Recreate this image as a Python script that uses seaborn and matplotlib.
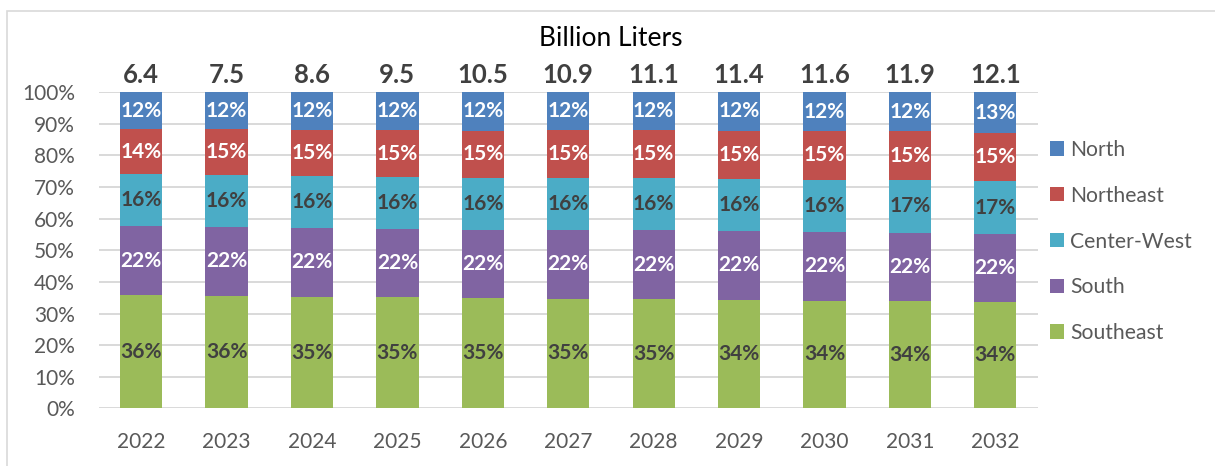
import numpy as np
import pandas as pd
import matplotlib
matplotlib.use("Agg")
import matplotlib.pyplot as plt
from matplotlib.patches import Rectangle
import seaborn as sns

years = [str(y) for y in range(2022, 2033)]
totals = [6.4, 7.5, 8.6, 9.5, 10.5, 10.9, 11.1, 11.4, 11.6, 11.9, 12.1]

# shares in percent
southeast = [35.8, 35.6, 35.3, 35.1, 34.8, 34.7, 34.6, 34.3, 34.1, 33.9, 33.6]
south = [21.9, 21.8, 21.8, 21.6, 21.6, 21.7, 21.8, 21.8, 21.8, 21.7, 21.6]
center_west = [16.3, 16.3, 16.3, 16.4, 16.4, 16.4, 16.4, 16.4, 16.4, 16.6, 16.6]
northeast = [14.4, 14.6, 14.8, 15.0, 15.1, 15.4, 15.3, 15.4, 15.4, 15.4, 15.4]
north = [11.6, 11.7, 11.8, 11.9, 12.1, 11.8, 11.9, 12.1, 12.3, 12.4, 12.8]

regions = ["Southeast", "South", "Center-West", "Northeast", "North"]
colors = ["#9BBB59", "#8064A2", "#4BACC6", "#C0504D", "#4F81BD"]
text_colors = ["#404040", "white", "#404040", "white", "white"]

sns.set_theme(style="white")
plt.rcParams['font.family'] = ['Lato', 'DejaVu Sans']

shares = pd.DataFrame({
    "Southeast": southeast,
    "South": south,
    "Center-West": center_west,
    "Northeast": northeast,
    "North": north,
}, index=years) / 100.0
cum = shares.cumsum(axis=1)

fig = plt.figure(figsize=(12.15, 4.66), dpi=100)
ax = fig.add_axes([98.5 / 1215, 57.7 / 466, 939.5 / 1215, 316 / 466])

# stacked bars: draw cumulative layers from the top down
for region, color in zip(regions[::-1], colors[::-1]):
    sns.barplot(x=years, y=cum[region].values, color=color, saturation=1,
                width=0.495, errorbar=None, linewidth=0, label=region, ax=ax)

# segment labels
for region, tcol in zip(regions, text_colors):
    mids = cum[region].values - shares[region].values / 2
    for i, (m, v) in enumerate(zip(mids, shares[region].values)):
        ax.text(i, m, f"{v * 100:.0f}%", ha='center', va='center',
                fontsize=15, fontweight='bold', color=tcol)

# totals above the bars
for i, t in enumerate(totals):
    ax.annotate(f"{t}", xy=(i, 1.0), xytext=(0, 12.5), textcoords='offset points',
                ha='center', va='center', fontsize=18.5, fontweight='bold',
                color='#404040', annotation_clip=False)

ax.set_xlim(-0.5, 10.5)
ax.set_ylim(0, 1.0)
ax.set_yticks(np.arange(0, 1.01, 0.1))
ax.set_yticklabels([f"{int(round(v * 100))}%" for v in np.arange(0, 1.01, 0.1)])
ax.grid(axis='y', color='#D9D9D9', linewidth=1.4)
ax.set_axisbelow(True)
for s in ax.spines.values():
    s.set_visible(False)
ax.tick_params(axis='both', length=0, labelsize=15, colors='#595959')
ax.tick_params(axis='y', pad=17)
ax.tick_params(axis='x', pad=17)
ax.set_xlabel('')
ax.set_ylabel('')

handles, labels = ax.get_legend_handles_labels()
if ax.get_legend() is not None:
    ax.get_legend().remove()
leg = fig.legend(handles, labels, loc='center left', bbox_to_anchor=(1050 / 1215, 1 - 241.5 / 466),
                 frameon=False, fontsize=15.2, handlelength=0.66, handleheight=0.66,
                 handletextpad=0.28, labelspacing=1.22, borderpad=0, borderaxespad=0)
for txt in leg.get_texts():
    txt.set_color('#595959')

fig.text(611 / 1215, 1 - 38 / 466, "Billion Liters", ha='center', va='center',
         fontsize=19, color='black')

# chart area border
fig.add_artist(Rectangle((7 / 1215, -0.1), 2.0, (1 - 11 / 466) + 0.1, transform=fig.transFigure,
                         fill=False, edgecolor='#D9D9D9', linewidth=1.2))

fig.savefig('out.png', dpi=100)
